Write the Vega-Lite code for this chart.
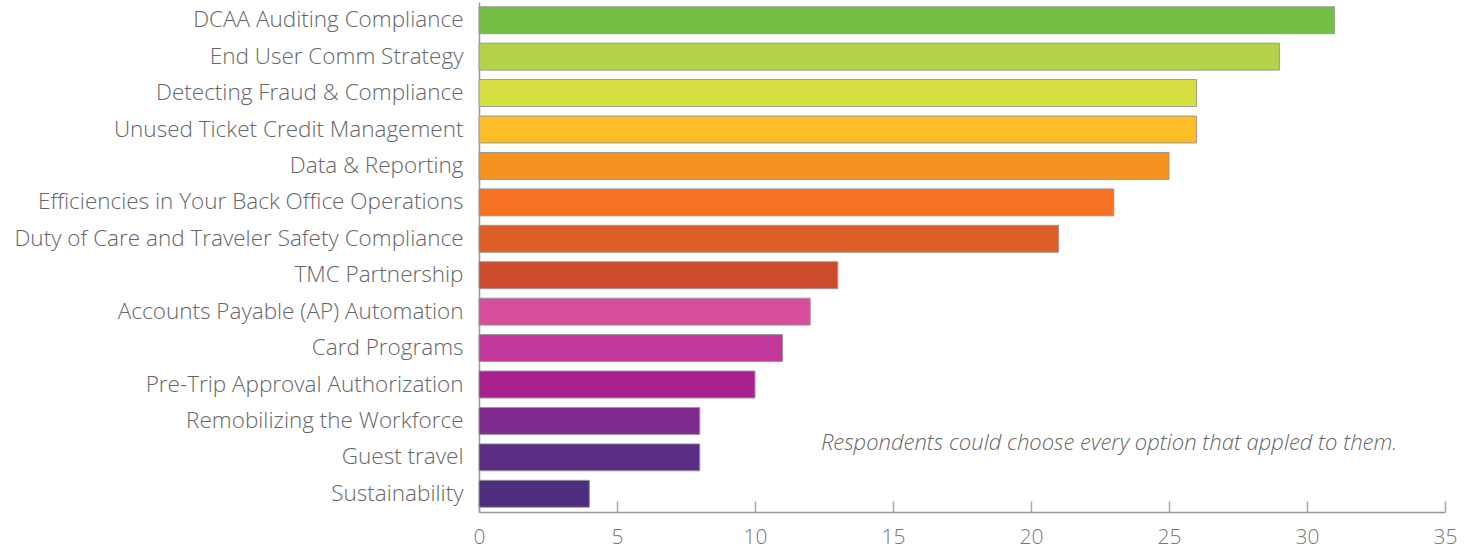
{
  "$schema": "https://vega.github.io/schema/vega-lite/v6.json",
  "width": 966,
  "height": 510,
  "autosize": "none",
  "padding": {"left": 479, "top": 2, "right": 31, "bottom": 40},
  "background": "white",
  "config": {
    "view": {"stroke": null},
    "font": "Open Sans"
  },
  "datasets": {
    "bars": [
      {"topic": "DCAA Auditing Compliance", "count": 31},
      {"topic": "End User Comm Strategy", "count": 29},
      {"topic": "Detecting Fraud & Compliance", "count": 26},
      {"topic": "Unused Ticket Credit Management", "count": 26},
      {"topic": "Data & Reporting", "count": 25},
      {"topic": "Efficiencies in Your Back Office Operations", "count": 23},
      {"topic": "Duty of Care and Traveler Safety Compliance", "count": 21},
      {"topic": "TMC Partnership", "count": 13},
      {"topic": "Accounts Payable (AP) Automation", "count": 12},
      {"topic": "Card Programs", "count": 11},
      {"topic": "Pre-Trip Approval Authorization", "count": 10},
      {"topic": "Remobilizing the Workforce", "count": 8},
      {"topic": "Guest travel", "count": 8},
      {"topic": "Sustainability", "count": 4}
    ],
    "note": [
      {"topic": "Guest travel", "count": 33.27, "text": "Respondents could choose every option that appled to them."}
    ]
  },
  "layer": [
    {
      "data": {"name": "bars"},
      "mark": {"type": "bar", "stroke": "#999999", "strokeWidth": 1},
      "encoding": {
        "y": {
          "field": "topic",
          "type": "nominal",
          "sort": null,
          "scale": {"paddingInner": 0.26, "paddingOuter": 0.13},
          "axis": {
            "title": null,
            "ticks": false,
            "domain": true,
            "domainColor": "#999999",
            "domainWidth": 1.5,
            "labelFont": "Open Sans",
            "labelFontWeight": 300,
            "labelFontSize": 22.5,
            "labelColor": "#666666",
            "labelPadding": 16,
            "labelLimit": 500
          }
        },
        "x": {
          "field": "count",
          "type": "quantitative",
          "scale": {"domain": [0, 35], "nice": false},
          "axis": {
            "title": null,
            "values": [0, 5, 10, 15, 20, 25, 30, 35],
            "grid": false,
            "domainColor": "#999999",
            "domainWidth": 1.5,
            "tickColor": "#aaaaaa",
            "tickSize": -11,
            "tickWidth": 1.5,
            "labelFont": "Open Sans",
            "labelFontWeight": 300,
            "labelFontSize": 21,
            "labelColor": "#777777",
            "labelPadding": 25,
            "labelFlush": false
          }
        },
        "color": {
          "field": "topic",
          "type": "nominal",
          "legend": null,
          "scale": {
            "domain": [
              "DCAA Auditing Compliance",
              "End User Comm Strategy",
              "Detecting Fraud & Compliance",
              "Unused Ticket Credit Management",
              "Data & Reporting",
              "Efficiencies in Your Back Office Operations",
              "Duty of Care and Traveler Safety Compliance",
              "TMC Partnership",
              "Accounts Payable (AP) Automation",
              "Card Programs",
              "Pre-Trip Approval Authorization",
              "Remobilizing the Workforce",
              "Guest travel",
              "Sustainability"
            ],
            "range": [
              "#72BF44", "#B2D34A", "#D7E041", "#FBBE27", "#F6921E", "#F37224", "#DD5E27",
              "#CB4B2C", "#D94E9B", "#C0399A", "#A9218E", "#7F2B8E", "#5B2C83", "#4F2D7F"
            ]
          }
        }
      }
    },
    {
      "data": {"name": "note"},
      "mark": {
        "type": "text",
        "align": "right",
        "baseline": "middle",
        "dy": -14,
        "font": "Open Sans",
        "fontWeight": 300,
        "fontStyle": "italic",
        "fontSize": 22,
        "color": "#666666"
      },
      "encoding": {
        "y": {"field": "topic", "type": "nominal", "sort": null},
        "x": {"field": "count", "type": "quantitative"},
        "text": {"field": "text"}
      }
    }
  ]
}
